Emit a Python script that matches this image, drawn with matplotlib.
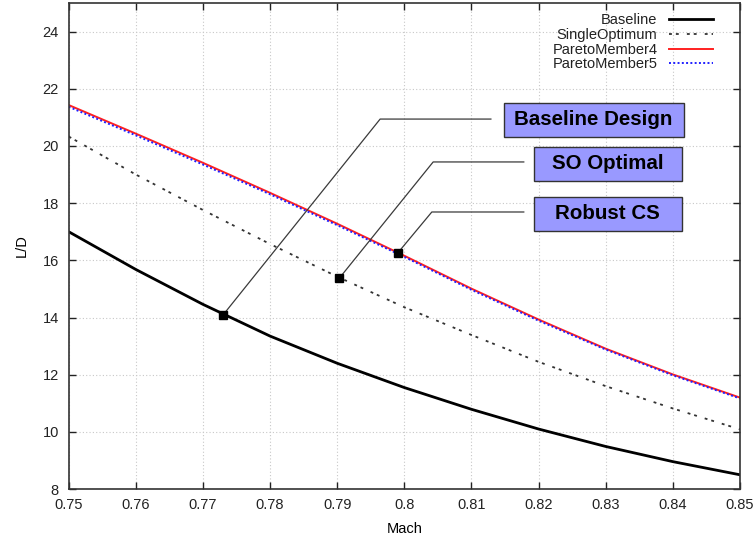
import matplotlib
matplotlib.use("Agg")
import matplotlib.pyplot as plt
from matplotlib.patches import Rectangle

plt.rcParams["font.family"] = ["Liberation Sans", "DejaVu Sans"]

# data
mach = [0.75, 0.76, 0.77, 0.78, 0.79, 0.80, 0.81, 0.82, 0.83, 0.84, 0.85]
baseline = [17.0, 15.68, 14.46, 13.35, 12.40, 11.55, 10.79, 10.10, 9.49, 8.96, 8.50]
single_opt = [20.33, 19.0, 17.76, 16.57, 15.43, 14.36, 13.39, 12.45, 11.60, 10.82, 10.09]
pareto4 = [21.43, 20.43, 19.41, 18.36, 17.28, 16.16, 15.01, 13.93, 12.91, 12.01, 11.20]
pareto5 = [21.37, 20.37, 19.35, 18.31, 17.23, 16.12, 14.97, 13.89, 12.88, 11.98, 11.17]

design_names = ["Baseline Design", "SO Optimal", "Robust CS"]
design_mach = [0.773, 0.7903, 0.799]
design_ld = [14.09, 15.37, 16.25]

xticks = [0.75, 0.76, 0.77, 0.78, 0.79, 0.80, 0.81, 0.82, 0.83, 0.84, 0.85]
xtick_labels = ["0.75", "0.76", "0.77", "0.78", "0.79", "0.8", "0.81", "0.82", "0.83", "0.84", "0.85"]
yticks = [8, 10, 12, 14, 16, 18, 20, 22, 24]

fig = plt.figure(figsize=(7.55, 5.41), dpi=100)
ax = fig.add_axes([0.091, 0.096, 0.889, 0.8985])

ax.plot(mach, baseline, color="black", lw=2.0, label="Baseline")
ax.plot(mach, single_opt, color="#333333", lw=1.3, linestyle=(0, (1.6, 2.2, 1.6, 4.5)),
        label="SingleOptimum")
ax.plot(mach, pareto4, color="#ff2020", lw=1.4, label="ParetoMember4")
ax.plot(mach, pareto5, color="#2020ff", lw=1.4, linestyle=(0, (1, 1.2)), label="ParetoMember5")

ax.set_xlim(0.75, 0.85)
ax.set_ylim(8, 25)
ax.set_xticks(xticks)
ax.set_xticklabels(xtick_labels)
ax.set_yticks(yticks)
ax.grid(True, color="#c8c8c8", linestyle=(0, (1, 2)), lw=0.8)
ax.tick_params(direction="in", top=True, right=True, length=5, width=1,
               labelsize=10.5, colors="#222222")
ax.tick_params(axis="x", pad=6.5)
ax.tick_params(axis="y", pad=7)
for s in ax.spines.values():
    s.set_linewidth(1.2)
    s.set_color("#333333")

ax.set_xlabel("Mach", fontsize=10.5, labelpad=7)
ax.set_ylabel("L/D", fontsize=10.5, labelpad=10)

# callouts: leader line marker -> corner -> box
corners = [(0.7964, 20.94), (0.8043, 19.44), (0.8041, 17.69)]
line_ends = [0.8129, 0.8178, 0.8178]
box_centers = [(0.8282, 20.91), (0.8303, 19.37), (0.8303, 17.62)]
box_widths = [0.0268, 0.0220, 0.0220]
box_h = 1.19
for name, mx, my, (cx, cy), xe, (bx, by), bw in zip(design_names, design_mach, design_ld,
                                                   corners, line_ends, box_centers, box_widths):
    ax.plot([mx, cx, xe], [my, cy, cy], color="#3a3a3a", lw=0.9, zorder=4)
    ax.add_patch(Rectangle((bx - bw / 2, by - box_h / 2), bw, box_h, facecolor="#9999ff",
                           edgecolor="#333333", lw=1.0, zorder=5))
    ax.text(bx, by, name, ha="center", va="center", fontsize=14.8, fontweight="bold",
            color="black", zorder=6)

ax.plot(design_mach, design_ld, linestyle="none", marker="s", markersize=6,
        color="black", zorder=7)

leg = ax.legend(loc="upper right", frameon=False, markerfirst=False, fontsize=10.5,
                labelspacing=0.05, handlelength=3.0, handletextpad=0.8,
                borderaxespad=0.3, bbox_to_anchor=(0.975, 1.0))
for t in leg.get_texts():
    t.set_color("#222222")

fig.savefig("out.png", dpi=100)
